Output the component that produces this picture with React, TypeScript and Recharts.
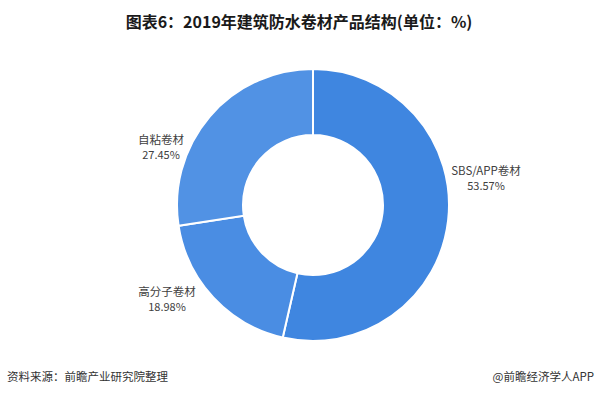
import { PieChart, Pie, Cell } from "recharts";

const NAMES = ["SBS/APP卷材", "高分子卷材", "自粘卷材"];
const SHARES = [53.57, 18.98, 27.45];
const COLORS = ["#3F86E0", "#4A8DE3", "#5192E4"];

const TITLE = "图表6：2019年建筑防水卷材产品结构(单位：%)";
const SOURCE = "资料来源：前瞻产业研究院整理";
const BRAND = "@前瞻经济学人APP";

const data = NAMES.map((name, i) => ({ name, value: SHARES[i] }));

// label centre relative to pie centre, per slice (Excel-style placement)
const LABEL_SHIFT: Record<string, [number, number]> = {
  "SBS/APP卷材": [173, -35],
  "高分子卷材": [-146, 86],
  "自粘卷材": [-152, -66],
};

const FONT = '"Noto Sans CJK SC", "Noto Sans", sans-serif';

function renderLabel(props: any) {
  const { cx, cy, name, value } = props;
  const [dx, dy] = LABEL_SHIFT[name] ?? [0, 0];
  const x = cx + dx;
  const y = cy + dy;
  return (
    <g>
      <text x={x} y={y} textAnchor="middle" dominantBaseline="central" fill="#404040" fontSize={11.5} fontFamily={FONT}>
        {name}
      </text>
      <text x={x} y={y + 15} textAnchor="middle" dominantBaseline="central" fill="#404040" fontSize={11} fontFamily={FONT}>
        {value.toFixed(2)}%
      </text>
    </g>
  );
}

export default function App() {
  return (
    <div style={{ position: "fixed", top: 0, left: 0, width: 598, height: 396, background: "#fff", fontFamily: FONT }}>
      <div
        style={{
          position: "absolute", top: 9, left: 0, width: 598, textAlign: "center",
          fontSize: 16, fontWeight: 700, color: "#1a1a1a",
        }}
      >
        {TITLE}
      </div>
      <PieChart width={598} height={396} style={{ position: "absolute", top: 0, left: 0 }}>
        <Pie
          data={data}
          dataKey="value"
          nameKey="name"
          cx={308}
          cy={200}
          innerRadius={70}
          outerRadius={136}
          startAngle={90}
          endAngle={-270}
          stroke="#ffffff"
          strokeWidth={2}
          label={renderLabel}
          labelLine={false}
          isAnimationActive={false}
        >
          {data.map((d, i) => (
            <Cell key={d.name} fill={COLORS[i]} />
          ))}
        </Pie>
      </PieChart>
      <div style={{ position: "absolute", left: 7, top: 368, fontSize: 11.5, color: "#333" }}>{SOURCE}</div>
      <div style={{ position: "absolute", left: 0, width: 594, textAlign: "right", top: 368, fontSize: 11.5, color: "#333" }}>
        {BRAND}
      </div>
    </div>
  );
}
